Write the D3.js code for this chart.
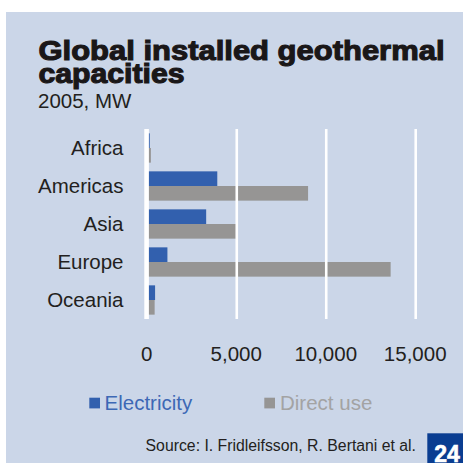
<!DOCTYPE html>
<html><head><meta charset="utf-8">
<script src="https://cdn.jsdelivr.net/npm/d3@7"></script>
<style>html,body{margin:0;padding:0;background:#fff;}svg{display:block;}</style>
</head><body>
<script>
const categories = ["Africa", "Americas", "Asia", "Europe", "Oceania"];
const electricity = [136, 3911, 3290, 1124, 435];
const directUse = [200, 8985, 5030, 13600, 410];
const seriesNames = ["Electricity", "Direct use"];
const tickValues = [0, 5000, 10000, 15000];

const W = 463, H = 463;
const svg = d3.select("body").append("svg").attr("width", W).attr("height", H);
const font = "'Liberation Sans', Arial, sans-serif";

svg.append("rect").attr("x", 6).attr("y", 12).attr("width", W - 6).attr("height", H - 12).attr("fill", "#cbd6e8");

// Title
svg.append("text").attr("x", 38.5).attr("y", 59.5).text("Global installed geothermal")
  .attr("font-family", font).attr("font-weight", "bold").attr("font-size", 27)
  .attr("fill", "#1a1718").attr("stroke", "#1a1718").attr("stroke-width", 1.1)
  .attr("textLength", 406).attr("lengthAdjust", "spacingAndGlyphs");
svg.append("text").attr("x", 38.5).attr("y", 83).text("capacities")
  .attr("font-family", font).attr("font-weight", "bold").attr("font-size", 27)
  .attr("fill", "#1a1718").attr("stroke", "#1a1718").attr("stroke-width", 1.1)
  .attr("textLength", 146).attr("lengthAdjust", "spacingAndGlyphs");
svg.append("text").attr("x", 38).attr("y", 107.5).text("2005, MW")
  .attr("font-family", font).attr("font-size", 20.5).attr("fill", "#231f20");

const x = d3.scaleLinear().domain([0, 15000]).range([147.3, 415.7]);
const y = d3.scaleBand().domain(categories).range([129, 319]).paddingInner(0.229).paddingOuter(0.1145);
const ySub = d3.scaleBand().domain(seriesNames).range([0, y.bandwidth()]);
const colors = {"Electricity": "#3260ae", "Direct use": "#969594"};

// bars
const g = svg.append("g");
categories.forEach((c, i) => {
  const vals = [electricity[i], directUse[i]];
  seriesNames.forEach((s, j) => {
    g.append("rect").attr("x", x(0)).attr("y", y(c) + ySub(s))
      .attr("width", x(vals[j]) - x(0)).attr("height", ySub.bandwidth())
      .attr("fill", colors[s]);
  });
});

// gridlines
const grid = svg.append("g");
tickValues.forEach(t => {
  grid.append("line").attr("x1", x(t) - (t === 0 ? 0.7 : 0)).attr("x2", x(t) - (t === 0 ? 0.7 : 0))
    .attr("y1", 129).attr("y2", 319)
    .attr("stroke", "#ffffff").attr("stroke-width", t === 0 ? 4.6 : 2.6);
});

// category labels
categories.forEach(c => {
  svg.append("text").attr("x", 123.5).attr("y", y(c) + y.bandwidth() / 2 + 7.3)
    .attr("text-anchor", "end").text(c)
    .attr("font-family", font).attr("font-size", 20.5).attr("fill", "#231f20");
});

// tick labels
const fmt = d3.format(",");
tickValues.forEach(t => {
  svg.append("text").attr("x", x(t) - 0.5).attr("y", 360.5).attr("text-anchor", "middle")
    .text(fmt(t)).attr("font-family", font).attr("font-size", 20.5).attr("fill", "#231f20");
});

// legend
const legendItems = [
  {name: "Electricity", sx: 89.3, tx: 104.5, color: "#3260ae", tcolor: "#3d68b5"},
  {name: "Direct use", sx: 264.3, tx: 280, color: "#969594", tcolor: "#a3a3a3"}
];
legendItems.forEach(d => {
  svg.append("rect").attr("x", d.sx).attr("y", 397.7).attr("width", 10.7).attr("height", 10.7).attr("fill", d.color);
  svg.append("text").attr("x", d.tx).attr("y", 409.5).text(d.name)
    .attr("font-family", font).attr("font-size", 20.5).attr("fill", d.tcolor);
});

// source
svg.append("text").attr("x", 416).attr("y", 450.5).attr("text-anchor", "end")
  .text("Source: I. Fridleifsson, R. Bertani et al.")
  .attr("font-family", font).attr("font-size", 15.8).attr("fill", "#231f20");

// page number box
svg.append("rect").attr("x", 427.3).attr("y", 433.3).attr("width", 36).attr("height", 30).attr("fill", "#0a3d91");
svg.append("text").attr("x", 434.3).attr("y", 462).text("24")
  .attr("font-family", font).attr("font-weight", "bold").attr("font-size", 23).attr("fill", "#ffffff")
  .attr("stroke", "#ffffff").attr("stroke-width", 0.6);
</script>
</body></html>
